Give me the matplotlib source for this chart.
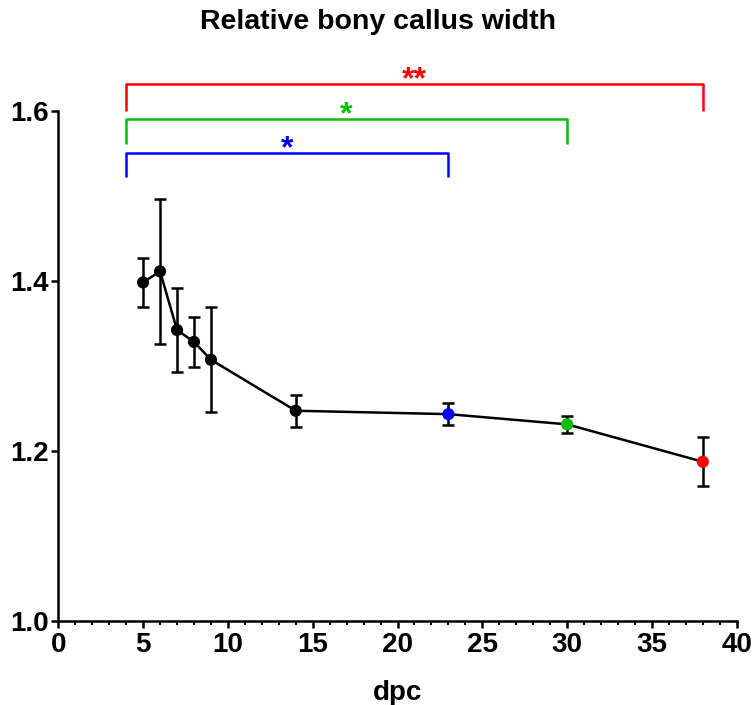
import numpy as np
import matplotlib
matplotlib.use("Agg")
from matplotlib import pyplot as plt
from matplotlib.ticker import MultipleLocator

# data
dpc = [5, 6, 7, 8, 9, 14, 23, 30, 38]
width = [1.398, 1.411, 1.342, 1.328, 1.307, 1.247, 1.243, 1.231, 1.187]
err = [0.029, 0.085, 0.050, 0.029, 0.062, 0.019, 0.013, 0.010, 0.029]
point_colors = ["black"] * 6 + ["#0000ff", "#00c000", "#ff0000"]

# significance brackets: (start, end, height, drop, label, colour)
brackets = [
    (4, 38, 1.631, 1.600, "**", "#ff0000"),
    (4, 30, 1.590, 1.561, "*", "#00c000"),
    (4, 23, 1.550, 1.522, "*", "#0000ff"),
]

plt.rcParams["font.family"] = ["Liberation Sans", "DejaVu Sans"]
plt.rcParams["font.weight"] = "bold"

fig = plt.figure(figsize=(7.56, 7.05), dpi=100)
ax = fig.add_axes([0.0771, 0.1196, 0.8974, 0.7957])

ax.errorbar(dpc, width, yerr=err, color="black", lw=1.8, elinewidth=1.8,
            capsize=4, capthick=1.8, zorder=2)
ax.scatter(dpc, width, s=60, c=point_colors, zorder=3)

for x0, x1, h, drop, label, col in brackets:
    ax.plot([x0, x0, x1, x1], [drop, h, h, drop], color=col, lw=1.8,
            clip_on=False, solid_capstyle="butt")
    ax.text((x0 + x1) / 2, h - 0.005, label, color=col, ha="center",
            va="baseline", fontsize=23, fontweight="bold")

ax.set_xlim(0, 40)
ax.set_ylim(1.0, 1.66)
ax.set_xticks(np.arange(0, 41, 5))
ax.xaxis.set_minor_locator(MultipleLocator(1))
ax.set_yticks([1.0, 1.2, 1.4, 1.6])
ax.set_yticklabels(["1.0", "1.2", "1.4", "1.6"])

for s in ["top", "right"]:
    ax.spines[s].set_visible(False)
for s in ["left", "bottom"]:
    ax.spines[s].set_linewidth(1.8)
ax.spines["left"].set_bounds(1.0, 1.6)

ax.tick_params(axis="both", which="major", direction="out", length=5,
               width=1.8, labelsize=20, pad=2)
ax.tick_params(axis="x", which="minor", direction="out", length=3, width=1.5)
ax.tick_params(axis="x", which="major", pad=3)
for lab in ax.get_xticklabels() + ax.get_yticklabels():
    lab.set_fontweight("bold")

ax.set_xlabel("dpc", fontsize=20, fontweight="bold", labelpad=16)
fig.text(0.5, 1 - 22 / 705, "Relative bony callus width", fontsize=20.5,
         fontweight="bold", ha="center", va="center")

fig.savefig("out.png", dpi=100)
